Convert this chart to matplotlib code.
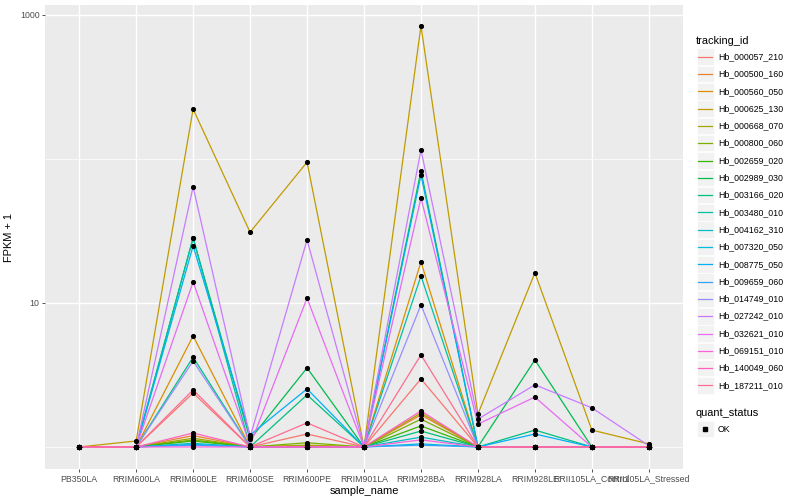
import matplotlib
matplotlib.use("Agg")
import matplotlib.pyplot as plt
from matplotlib.patches import Rectangle
from matplotlib.lines import Line2D
import numpy as np

plt.rcParams['font.family'] = ['Liberation Sans', 'DejaVu Sans']

samples = ["PB350LA", "RRIM600LA", "RRIM600LE", "RRIM600SE", "RRIM600PE",
           "RRIM901LA", "RRIM928BA", "RRIM928LA", "RRIM928LE",
           "RRII105LA_Control", "RRII105LA_Stressed"]

tracking_ids = ["Hb_000057_210", "Hb_000500_160", "Hb_000560_050", "Hb_000625_130",
                "Hb_000668_070", "Hb_000800_060", "Hb_002659_020", "Hb_002989_030",
                "Hb_003166_020", "Hb_003480_010", "Hb_004162_310", "Hb_007320_050",
                "Hb_008775_050", "Hb_009659_060", "Hb_014749_010", "Hb_027242_010",
                "Hb_032621_010", "Hb_069151_010", "Hb_140049_060", "Hb_187211_010"]

# ggplot default hue palette for 20 levels
colors = ["#F8766D", "#EA8331", "#D89000", "#C09B00", "#A3A500", "#7CAE00", "#39B600",
          "#00BB4E", "#00BF7D", "#00C1A3", "#00BFC4", "#00BAE0", "#00B0F6", "#35A2FF",
          "#9590FF", "#C77CFF", "#E76BF3", "#FA62DB", "#FF62BC", "#FF6C91"]

# FPKM + 1, one list per tracking id, in sample order
fpkm1 = [
    [1, 1, 2.37, 1, 1.23, 1, 2.97, 1, 1, 1, 1],
    [1, 1, 1.20, 1, 1.02, 1, 1.67, 1, 1, 1, 1],
    [1, 1, 5.9, 1, 1, 1, 19.3, 1, 1, 1, 1],
    [1, 1.1, 222, 31, 95, 1, 840, 1.69, 16.2, 1.31, 1.05],
    [1, 1, 1.15, 1, 1.03, 1, 1.72, 1, 1, 1, 1],
    [1, 1, 1.12, 1, 1.07, 1, 1.56, 1, 1, 1, 1],
    [1, 1, 1.10, 1, 1, 1, 1.40, 1, 1, 1, 1],
    [1, 1, 28.3, 1.13, 3.54, 1, 82.6, 1, 4.02, 1, 1],
    [1, 1, 4.2, 1, 2.30, 1, 1.29, 1, 1.31, 1, 1],
    [1, 1, 28.3, 1, 1, 1, 15.4, 1, 1, 1, 1],
    [1, 1, 1.06, 1, 1, 1, 1.17, 1, 1, 1, 1],
    [1, 1, 1.04, 1, 1, 1, 1.05, 1, 1, 1, 1],
    [1, 1, 24.9, 1.21, 2.53, 1, 77.4, 1, 1.23, 1, 1],
    [1, 1, 1.03, 1, 1, 1, 1.03, 1, 1, 1, 1],
    [1, 1, 3.95, 1, 1, 1, 9.7, 1, 1, 1, 1],
    [1, 1, 64, 1.17, 27.4, 1, 115.5, 1.56, 2.70, 1.87, 1.02],
    [1, 1, 14, 1.03, 10.8, 1, 53.6, 1.44, 2.22, 1, 1],
    [1, 1, 1, 1, 1, 1, 1.12, 1, 1, 1, 1],
    [1, 1, 1.25, 1, 1, 1, 1.78, 1, 1, 1, 1],
    [1, 1, 2.49, 1, 1.47, 1, 4.36, 1, 1, 1, 1],
]

W, H = 800, 500


def fx(px):
    return px / W


def fy(py):
    return 1 - py / H


fig = plt.figure(figsize=(8, 5), dpi=100)
# panel in pixel coords: x 45..683, y 5..469
ax = fig.add_axes([fx(45), fy(469), fx(683) - fx(45), fy(5) - fy(469)])
ax.set_facecolor("#EBEBEB")
for s in ax.spines.values():
    s.set_visible(False)

x = np.arange(len(samples))
ax.set_yscale("log")
ax.set_xlim(-0.6, len(samples) - 1 + 0.6)
ax.set_ylim(0.703, 1172)

# grid
for v in [1, 100]:
    ax.axhline(v, color="white", lw=0.5, zorder=0)
for v in [10, 1000]:
    ax.axhline(v, color="white", lw=1.0, zorder=0)
for xi in x:
    ax.axvline(xi, color="white", lw=1.0, zorder=0)

for vals, c in zip(fpkm1, colors):
    ax.plot(x, vals, color=c, lw=0.9, zorder=2)
for vals in fpkm1:
    ax.plot(x, vals, ls="none", marker="o", ms=2.7, color="black", zorder=3)

ax.set_xticks(x)
ax.set_xticklabels(samples)
ax.set_yticks([10, 1000])
ax.set_yticklabels(["10", "1000"])
ax.yaxis.set_minor_locator(matplotlib.ticker.NullLocator())
ax.tick_params(axis="both", length=2.5, width=0.6, color="#333333",
               labelcolor="#4D4D4D", labelsize=6.3, pad=1.5)
ax.set_xlabel("sample_name", fontsize=7.9, color="black", labelpad=2)
ax.set_ylabel("FPKM + 1", fontsize=7.9, color="black", labelpad=4)

# legend: tracking_id
fig.text(fx(696), fy(41), "tracking_id", fontsize=7.9, va="center", ha="left")
y0, step = 56.7, 17.3
for i, (tid, c) in enumerate(zip(tracking_ids, colors)):
    yc = y0 + i * step
    fig.patches.append(Rectangle((fx(697), fy(yc + 8.3)), fx(16.5), 16.6 / H,
                                 transform=fig.transFigure, facecolor="#F2F2F2",
                                 edgecolor="white", lw=0.5))
    fig.lines.append(Line2D([fx(698), fx(712)], [fy(yc), fy(yc)],
                            transform=fig.transFigure, color=c, lw=0.9))
    fig.text(fx(718), fy(yc), tid, fontsize=6.3, va="center", ha="left")

# legend: quant_status
fig.text(fx(696), fy(412.7), "quant_status", fontsize=7.9, va="center", ha="left")
fig.patches.append(Rectangle((fx(697), fy(429 + 8.3)), fx(16.5), 16.6 / H,
                             transform=fig.transFigure, facecolor="#F2F2F2",
                             edgecolor="white", lw=0.5))
fig.lines.append(Line2D([fx(705)], [fy(429)], transform=fig.transFigure,
                        ls="none", marker="s", ms=2.4, color="black"))
fig.text(fx(718), fy(429), "OK", fontsize=6.3, va="center", ha="left")

fig.savefig("out.png", dpi=100)
